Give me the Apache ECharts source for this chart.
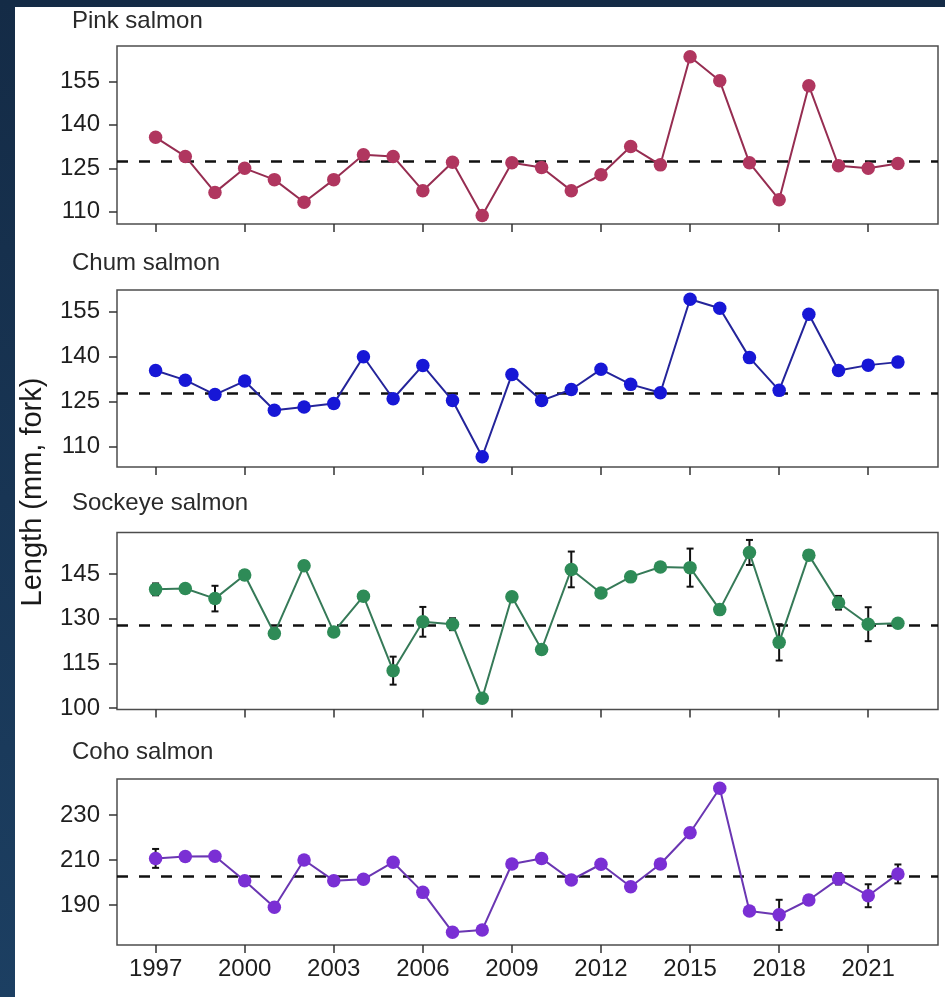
<!DOCTYPE html>
<html>
<head>
<meta charset="utf-8">
<script src="https://cdn.jsdelivr.net/npm/echarts@6/dist/echarts.min.js"></script>
<style>
  html, body { margin: 0; padding: 0; }
  body { width: 945px; height: 997px; background: linear-gradient(to bottom, #142b46, #1c3f62); position: relative; overflow: hidden; }
  #paper { position: absolute; left: 15px; top: 7px; right: 0; bottom: 0; background: #ffffff; }
  #chart { position: absolute; left: 0; top: 0; width: 945px; height: 997px; }
</style>
</head>
<body>
<div id="paper"></div>
<div id="chart"></div>
<script>
// Mean fork length of juvenile salmon by survey year
const years = [1997, 1998, 1999, 2000, 2001, 2002, 2003, 2004, 2005, 2006, 2007, 2008, 2009,
               2010, 2011, 2012, 2013, 2014, 2015, 2016, 2017, 2018, 2019, 2020, 2021, 2022];
const yearTicks = [1997, 2000, 2003, 2006, 2009, 2012, 2015, 2018, 2021];

const pinkLength = [135.7, 129.1, 116.7, 125.0, 121.1, 113.3, 121.1, 129.7, 129.1, 117.3, 127.1, 108.7, 126.9,
                    125.3, 117.3, 122.8, 132.5, 126.2, 163.5, 155.2, 126.9, 114.2, 153.5, 125.9, 125.0, 126.7];
const chumLength = [135.4, 132.2, 127.4, 131.9, 122.2, 123.3, 124.4, 140.0, 126.0, 137.1, 125.4, 106.7, 134.1,
                    125.4, 129.1, 135.8, 130.8, 128.0, 159.1, 156.1, 139.7, 128.8, 154.1, 135.4, 137.2, 138.2];
const sockeyeLength = [139.9, 140.2, 136.8, 144.7, 125.1, 147.8, 125.6, 137.6, 112.6, 129.0, 128.2, 103.3, 137.4,
                       119.7, 146.6, 138.7, 144.1, 147.4, 147.2, 133.1, 152.3, 122.1, 151.4, 135.4, 128.2, 128.5];
const sockeyeErr = [2.0, 1.5, 4.3, 1.5, 0.5, 1.5, 0.5, 1.5, 4.7, 5.0, 2.0, 0.5, 0.5,
                    0.5, 6.0, 0.5, 0.5, 0.5, 6.4, 0.5, 4.2, 6.1, 1.5, 2.3, 5.7, 1.0];
const cohoLength = [210.7, 211.5, 211.7, 200.8, 189.0, 210.0, 200.8, 201.4, 209.0, 195.6, 177.9, 178.9, 208.2,
                    210.7, 201.1, 208.1, 198.1, 208.2, 222.1, 241.9, 187.3, 185.6, 192.2, 201.6, 194.1, 203.8];
const cohoErr = [4.2, 0.5, 0.5, 1.0, 0.5, 0.5, 0.5, 0.5, 0.5, 0.5, 0.5, 0.5, 0.5,
                 0.5, 0.5, 0.5, 0.5, 0.5, 0.5, 0.5, 1.5, 6.7, 2.0, 2.5, 5.1, 4.2];

const panelTitles = ['Pink salmon', 'Chum salmon', 'Sockeye salmon', 'Coho salmon'];
const meanLength = [127.6, 127.8, 128.0, 202.9];
const yTicks = [[110, 125, 140, 155], [110, 125, 140, 155], [100, 115, 130, 145], [190, 210, 230]];
const yRange = [[105.8, 167.2], [103.3, 162.2], [99.55, 159.0], [172.2, 246.0]];

const FONT = '"Liberation Sans", Arial, sans-serif';

// panel frames: top / height in pixels
const panels = [
  { top: 46, height: 178, title: 22.8, marker: '#b0365f', line: '#962d51', values: pinkLength, err: null },
  { top: 290, height: 177, title: 264, marker: '#1717d6', line: '#24249a', values: chumLength, err: null },
  { top: 532.5, height: 177, title: 504, marker: '#2e8b57', line: '#367a58', values: sockeyeLength, err: sockeyeErr },
  { top: 779, height: 166, title: 753, marker: '#7a2fd4', line: '#6a36b2', values: cohoLength, err: cohoErr }
];

const grids = [], xAxes = [], yAxes = [], series = [], graphics = [];

panels.forEach((p, i) => {
  grids.push({
    left: 117, right: 7, top: p.top, height: p.height,
    show: true, borderColor: '#4d4d4d', borderWidth: 1.5, backgroundColor: 'transparent'
  });
  xAxes.push({
    type: 'value', gridIndex: i, min: 1995.7, max: 2023.35,
    axisLine: { show: false },
    splitLine: { show: false },
    axisTick: { show: true, length: 8, customValues: yearTicks, lineStyle: { color: '#333', width: 1.5 } },
    axisLabel: {
      show: i === 3, customValues: yearTicks, margin: 12,
      color: '#1e1e1e', fontSize: 24, fontFamily: FONT, formatter: v => String(v)
    }
  });
  yAxes.push({
    type: 'value', gridIndex: i, min: yRange[i][0], max: yRange[i][1],
    axisLine: { show: false },
    splitLine: { show: false },
    axisTick: { show: true, length: 8, customValues: yTicks[i], lineStyle: { color: '#333', width: 1.5 } },
    axisLabel: {
      customValues: yTicks[i], margin: 17,
      color: '#1e1e1e', fontSize: 24, fontFamily: FONT, formatter: v => String(v)
    }
  });

  series.push({
    type: 'line', xAxisIndex: i, yAxisIndex: i,
    data: years.map((y, k) => [y, p.values[k]]),
    symbol: 'circle', symbolSize: 13.5, showAllSymbol: true,
    itemStyle: { color: p.marker },
    lineStyle: { color: p.line, width: 2 },
    z: 3, silent: true, animation: false,
    markLine: {
      silent: true, symbol: 'none', animation: false,
      label: { show: false },
      lineStyle: { color: '#111', width: 2.5, type: [11, 11] },
      data: [{ yAxis: meanLength[i] }],
      z: 2
    }
  });

  // standard-error whiskers sit beneath the markers
  if (p.err) {
    const err = p.err;
    series.push({
      type: 'custom', xAxisIndex: i, yAxisIndex: i,
      data: years.map((y, k) => [y, p.values[k] - err[k], p.values[k] + err[k]]),
      z: 2, silent: true, animation: false,
      renderItem: (params, api) => {
        const lo = api.coord([api.value(0), api.value(1)]);
        const hi = api.coord([api.value(0), api.value(2)]);
        const cap = 3.5;
        const st = { stroke: '#111', lineWidth: 2 };
        return {
          type: 'group',
          children: [
            { type: 'line', shape: { x1: lo[0], y1: lo[1], x2: hi[0], y2: hi[1] }, style: st },
            { type: 'line', shape: { x1: lo[0] - cap, y1: lo[1], x2: lo[0] + cap, y2: lo[1] }, style: st },
            { type: 'line', shape: { x1: hi[0] - cap, y1: hi[1], x2: hi[0] + cap, y2: hi[1] }, style: st }
          ]
        };
      }
    });
  }

  graphics.push({
    type: 'text', left: 72, top: p.title - 13,
    style: { text: panelTitles[i], fill: '#2a2a2a', fontSize: 24, fontFamily: FONT }
  });
});

graphics.push({
  type: 'text', x: 33, y: 492, rotation: Math.PI / 2,
  style: {
    text: 'Length (mm, fork)', fill: '#1a1a1a', fontSize: 29, fontFamily: FONT,
    align: 'center', verticalAlign: 'middle'
  }
});

const chart = echarts.init(document.getElementById('chart'), null, { renderer: 'canvas' });
chart.setOption({
  backgroundColor: 'transparent',
  animation: false,
  grid: grids,
  xAxis: xAxes,
  yAxis: yAxes,
  series: series,
  graphic: graphics
});
</script>
</body>
</html>
